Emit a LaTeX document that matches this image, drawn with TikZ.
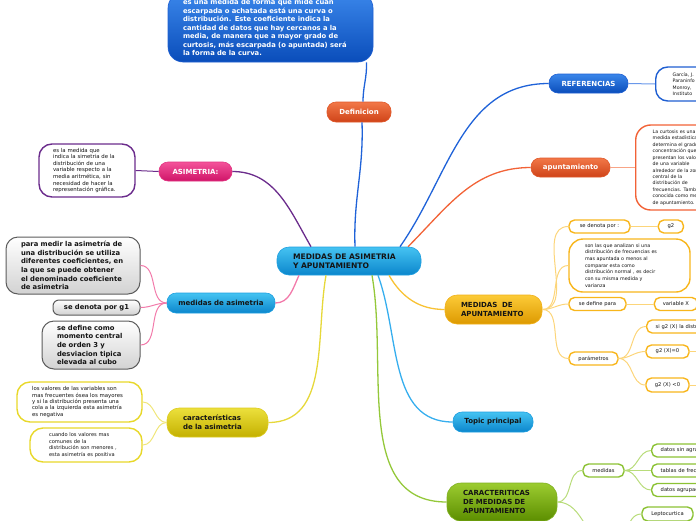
\documentclass[tikz,border=0pt]{standalone}
\usepackage{fontspec}
\setmainfont{DejaVu Sans}
\usetikzlibrary{positioning}

\definecolor{cyantop}{HTML}{45C3F2}
\definecolor{cyanbot}{HTML}{0B86CC}
\definecolor{cyanedge}{HTML}{1E9FE0}
\definecolor{navytop}{HTML}{3A86EA}
\definecolor{navybot}{HTML}{0A4DBA}
\definecolor{navyedge}{HTML}{1F5FD2}
\definecolor{redtop}{HTML}{F27848}
\definecolor{redbot}{HTML}{CF4318}
\definecolor{rededge}{HTML}{E0582A}
\definecolor{pinktop}{HTML}{F4539A}
\definecolor{pinkbot}{HTML}{CF1468}
\definecolor{pinkedge}{HTML}{E23482}
\definecolor{olivetop}{HTML}{ECE03C}
\definecolor{olivebot}{HTML}{C4B000}
\definecolor{oliveedge}{HTML}{DCCB1E}
\definecolor{goldtop}{HTML}{FCCB38}
\definecolor{goldbot}{HTML}{DD9900}
\definecolor{goldedge}{HTML}{F0B018}
\definecolor{greentop}{HTML}{9CCC30}
\definecolor{greenbot}{HTML}{5C8E00}
\definecolor{greenedge}{HTML}{7FB020}
\definecolor{greybot}{HTML}{D2D2D2}
\definecolor{greyedge}{HTML}{5C5C5C}
\definecolor{darktext}{HTML}{141414}
\definecolor{purpleline}{HTML}{6B2C8C}
\definecolor{pinkline}{HTML}{F27AAA}
\definecolor{oliveline}{HTML}{E6D83A}
\definecolor{olivetwig}{HTML}{F0E67A}
\definecolor{oliveleaf}{HTML}{E8D82A}
\definecolor{navyline}{HTML}{1F62D8}
\definecolor{navytwig}{HTML}{6A98EA}
\definecolor{redline}{HTML}{F26236}
\definecolor{redtwig}{HTML}{F8A486}
\definecolor{goldline}{HTML}{F8C234}
\definecolor{goldtwig}{HTML}{FCD57A}
\definecolor{goldleaf}{HTML}{F8B61C}
\definecolor{cyanline}{HTML}{36AEEE}
\definecolor{greenline}{HTML}{94C83A}
\definecolor{greentwig}{HTML}{B8DC7A}
\definecolor{greenleaf}{HTML}{8CC234}

\tikzstyle{topicbox} = [rectangle, rounded corners=9pt, inner sep=0pt, line width=0.6pt, align=left, font=\bfseries\fontsize{7}{9}\selectfont]
\tikzstyle{cyanbox} = [topicbox, draw=cyanedge, top color=cyantop, bottom color=cyanbot, text=darktext]
\tikzstyle{navybox} = [topicbox, draw=navyedge, top color=navytop, bottom color=navybot, text=white]
\tikzstyle{redbox} = [topicbox, draw=rededge, top color=redtop, bottom color=redbot, text=white]
\tikzstyle{pinkbox} = [topicbox, draw=pinkedge, top color=pinktop, bottom color=pinkbot, text=white]
\tikzstyle{olivebox} = [topicbox, rounded corners=12pt, draw=oliveedge, top color=olivetop, bottom color=olivebot, text=darktext]
\tikzstyle{goldbox} = [topicbox, rounded corners=12pt, draw=goldedge, top color=goldtop, bottom color=goldbot, text=darktext]
\tikzstyle{greenbox} = [topicbox, rounded corners=14pt, draw=greenedge, top color=greentop, bottom color=greenbot, text=darktext]
\tikzstyle{greybox} = [rectangle, rounded corners=12pt, draw=greyedge, line width=1pt, top color=white, bottom color=greybot, inner sep=0pt, align=left, text=darktext, font=\bfseries\fontsize{6.8}{8.6}\selectfont]
\tikzstyle{note} = [rectangle, rounded corners=13pt, fill=white, line width=1.4pt, inner sep=0pt, align=left, text=darktext, font=\fontsize{5.3}{6.5}\selectfont]
\tikzstyle{leaf} = [rectangle, rounded corners=5.5pt, fill=white, draw=goldleaf, line width=1.4pt, inner sep=0pt, text=darktext, font=\fontsize{5.2}{6.5}\selectfont]
\tikzstyle{branch} = [line width=1.3pt]
\tikzstyle{twig} = [line width=1pt]

\begin{document}
\begin{tikzpicture}[x=1pt, y=1pt]
    \useasboundingbox (0,0) rectangle (696,-520);
    \clip (0,0) rectangle (696,-520);

    % centre
    \node (central) [cyanbox, rounded corners=12pt, minimum width=144pt, minimum height=28pt, text width=112pt, font=\bfseries\fontsize{7.6}{9}\selectfont] at (349,-261) {MEDIDAS DE ASIMETRIA\\Y APUNTAMIENTO};

    % definicion
    \node (def) [redbox, minimum width=64pt, minimum height=20pt] at (359,-112) {Definicion};
    \node (defnote) [navybox, rounded corners=15pt, minimum width=205pt, minimum height=69pt, text width=175pt, font=\bfseries\fontsize{6.8}{8.5}\selectfont] at (270.5,-27.5) {es una medida de forma que mide cuán\\escarpada o achatada está una curva o\\distribución. Este coeficiente indica la\\cantidad de datos que hay cercanos a la\\media, de manera que a mayor grado de\\curtosis, más escarpada (o apuntada) será\\la forma de la curva.};

    % asimetria
    \node (asim) [pinkbox, minimum width=73pt, minimum height=19pt] at (195.5,-171.5) {ASIMETRIA:};
    \node (asimnote) [note, draw=purpleline, minimum width=96pt, minimum height=53pt, text width=68pt, font=\fontsize{5.4}{6.6}\selectfont] at (87,-170.5) {es la medida que\\indica la simetria de la\\distribución de una\\variable respecto a la\\media aritmética, sin\\necesidad de hacer la\\representación gráfica.};

    % medidas de asimetria
    \node (masim) [cyanbox, minimum width=108pt, minimum height=20pt] at (221,-303) {medidas de asimetria};
    \node (masimA) [greybox, minimum width=134pt, minimum height=57pt, text width=104pt] at (73,-265.5) {para medir la asimetría de\\una distribución se utiliza\\diferentes coeficientes, en\\la que se puede obtener\\el denominado coeficiente\\de asimetria};
    \node (masimB) [greybox, rounded corners=6pt, minimum width=87pt, minimum height=15pt] at (96.5,-307.5) {se denota por g1};
    \node (masimC) [greybox, minimum width=98pt, minimum height=48pt, text width=68pt] at (91,-345) {se define como\\momento central\\de orden 3 y\\desviacion tipica\\elevada al cubo};

    % caracteristicas
    \node (carac) [olivebox, minimum width=101pt, minimum height=29pt, text width=69pt] at (217.5,-422.5) {características\\de la asimetria};
    \node (caracA) [note, draw=oliveleaf, minimum width=125pt, minimum height=40pt, text width=95pt, font=\fontsize{5.4}{6.4}\selectfont] at (79.5,-402) {los valores de las variables son\\mas frecuentes ósea los mayores\\y si la distribución presenta una\\cola a la izquierda esta asimetría\\es negativa};
    \node (caracB) [note, draw=oliveleaf, minimum width=112pt, minimum height=34pt, text width=74pt, font=\fontsize{5.1}{6.7}\selectfont] at (86,-445) {cuando los valores mas\\comunes de la\\distribución son menores ,\\esta asimetría es positiva};

    % referencias
    \node (refs) [navybox, minimum width=79pt, minimum height=19pt] at (588.5,-83.5) {REFERENCIAS};
    \node (refsnote) [note, draw=navyedge, anchor=west, rounded corners=12pt, minimum width=90pt, minimum height=34pt, text width=56pt, font=\fontsize{4.7}{6.3}\selectfont] at (655,-84) {García, J.\\Paraninfo\\Monroy,\\Instituto};

    % apuntamiento
    \node (apunt) [redbox, minimum width=79pt, minimum height=19pt] at (570.5,-167.5) {apuntamiento};
    \node (curtnote) [note, draw=redline, anchor=west, rounded corners=15pt, minimum width=104pt, minimum height=85pt, text width=70pt, font=\fontsize{4.7}{6.45}\selectfont] at (635,-167.5) {La curtosis es una\\medida estadística\\determina el grado\\concentración que\\presentan los valores\\de una variable\\alrededor de la zona\\central de la\\distribución de\\frecuencias. También\\conocida como medida\\de apuntamiento.};

    % medidas de apuntamiento
    \node (map) [goldbox, minimum width=97pt, minimum height=29pt, text width=65pt] at (493.5,-309.5) {MEDIDAS\ \ DE\\APUNTAMIENTO};
    \node (denota) [leaf, minimum width=61pt, minimum height=13pt] at (599.5,-226.5) {se denota por :};
    \node (gtwo) [leaf, minimum width=25pt, minimum height=13pt, right=27pt of denota] {g2};
    \node (mapnote) [note, draw=goldleaf, rounded corners=14pt, minimum width=121pt, minimum height=53pt, text width=89pt, font=\fontsize{4.8}{6.7}\selectfont] at (629.5,-265.5) {son las que analizan si una\\distribución de frecuencias es\\mas apuntada o menos al\\comparar esta como\\distribución normal , es decir\\con su misma medida y\\varianza};
    \node (definepara) [leaf, minimum width=57pt, minimum height=13pt] at (597.5,-304) {se define para};
    \node (varx) [leaf, minimum width=43pt, minimum height=13pt, right=27pt of definepara] {variable X};
    \node (param) [leaf, minimum width=49pt, minimum height=13pt] at (593.5,-358.5) {parámetros};
    \node (pA) [leaf, anchor=west, minimum width=108pt, minimum height=13pt, text width=90pt, align=left] at (646,-326.5) {si g2 (X) la distribución};
    \node (pB) [leaf, minimum width=43pt, minimum height=13pt] at (667.5,-351.5) {g2 (X)=0};
    \node (pC) [leaf, minimum width=43pt, minimum height=14pt] at (667.5,-385) {g2 (X) <0};
    \coordinate (pBend) at (720,-351.5);
    \coordinate (pCend) at (720,-385);

    % topic
    \node (topic) [cyanbox, minimum width=80pt, minimum height=20pt] at (493,-422) {Topic principal};

    % caracteriticas de medidas de apuntamiento
    \node (cm) [greenbox, minimum width=110pt, minimum height=38pt, text width=78pt] at (502,-502) {CARACTERITICAS\\DE MEDIDAS DE\\APUNTAMIENTO};
    \node (medidas) [leaf, draw=greenleaf, minimum width=41pt, minimum height=13pt] at (603.5,-470.5) {medidas};
    \node (mA) [leaf, draw=greenleaf, anchor=west, minimum width=100pt, minimum height=13pt, text width=82pt, align=left] at (651,-450.5) {datos sin agrupar};
    \node (mB) [leaf, draw=greenleaf, anchor=west, minimum width=100pt, minimum height=13pt, text width=82pt, align=left] at (651,-470.5) {tablas de frecuencias};
    \node (mC) [leaf, draw=greenleaf, anchor=west, minimum width=100pt, minimum height=13pt, text width=82pt, align=left] at (651,-490) {datos agrupados};
    \node (lepto) [leaf, draw=greenleaf, minimum width=51pt, minimum height=14pt] at (667.5,-514) {Leptocurtica};
    \coordinate (forma) at (612,-545);

    % connectors
    \draw [branch, navyline] ([xshift=6pt]central.north) to[out=92,in=-88] ([xshift=3pt]def.south);
    \draw [branch, navyline] ([xshift=4pt]def.north) to[out=90,in=-88] ([xshift=96pt]defnote.south);
    \draw [branch, purpleline] ([xshift=-38pt]central.north) to[out=120,in=0] (asim.east);
    \draw [twig, purpleline] (asim.west) -- (asimnote.east);
    \draw [branch, pinkline] ([xshift=-50pt]central.south) to[out=-115,in=0] (masim.east);
    \foreach \n in {masimA, masimB, masimC}
        \draw [twig, pinkline] (masim.west) to[out=180,in=0] (\n.east);
    \draw [branch, oliveline] ([xshift=-23pt]central.south) to[out=-100,in=0] (carac.east);
    \foreach \n in {caracA, caracB}
        \draw [twig, olivetwig] (carac.west) to[out=180,in=0] (\n.east);
    \draw [branch, navyline] ([xshift=51pt]central.north) to[out=55,in=180] (refs.west);
    \draw [twig, navytwig] (refs.east) -- (refsnote.west);
    \draw [branch, redline] ([xshift=59pt]central.north) to[out=45,in=180] (apunt.west);
    \draw [twig, redtwig] (apunt.east) -- (curtnote.west);
    \draw [branch, goldline] ([xshift=40pt]central.south) to[out=-60,in=180] (map.west);
    \foreach \n in {denota, mapnote, definepara, param}
        \draw [twig, goldtwig] (map.east) to[out=0,in=180] (\n.west);
    \draw [twig, goldtwig] (denota.east) -- (gtwo.west);
    \draw [twig, goldtwig] (definepara.east) -- (varx.west);
    \foreach \n in {pA, pB, pC}
        \draw [twig, goldtwig] (param.east) to[out=0,in=180] (\n.west);
    \draw [twig, goldtwig] (pB.east) -- (pBend);
    \draw [twig, goldtwig] (pC.east) -- (pCend);
    \draw [branch, cyanline] ([xshift=29pt]central.south) to[out=-70,in=180] (topic.west);
    \draw [branch, greenline] ([xshift=23pt]central.south) to[out=-80,in=180] (cm.west);
    \draw [twig, greentwig] (cm.east) to[out=0,in=180] (medidas.west);
    \foreach \n in {mA, mB, mC}
        \draw [twig, greentwig] (medidas.east) to[out=0,in=180] (\n.west);
    \draw [twig, greentwig] (cm.east) to[out=0,in=180] (forma);
    \draw [twig, greentwig] (forma) to[out=0,in=180] (lepto.west);
\end{tikzpicture}
\end{document}
